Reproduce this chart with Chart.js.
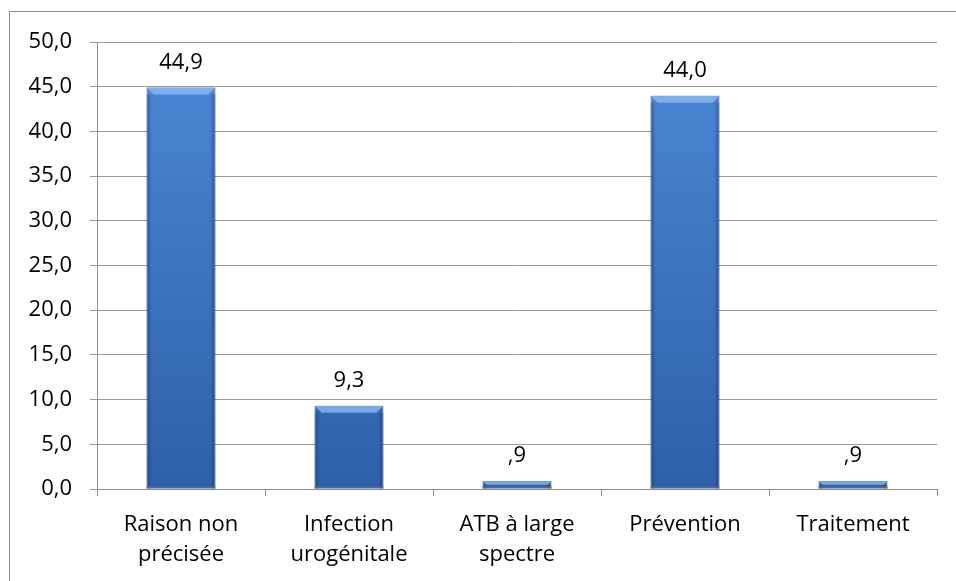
<!DOCTYPE html>
<html lang="fr">
<head>
<meta charset="utf-8">
<script src="https://cdn.jsdelivr.net/npm/chart.js@4/dist/chart.umd.min.js"></script>
<style>
    html, body { margin: 0; padding: 0; background: #fff; overflow: hidden; }
    #cadre { position: absolute; left: 9px; top: 11px; width: 1000px; height: 1000px;
             border: 1px solid #8c8c8c; box-sizing: border-box; }
    #grafique { position: absolute; left: 0; top: 0; }
</style>
</head>
<body>
<div id="cadre"></div>
<canvas id="grafique" width="956" height="581"></canvas>
<script>
/* categories (split into lines) and percentages */
const categories = [
    ['Raison non', 'précisée'],
    ['Infection', 'urogénitale'],
    ['ATB à large', 'spectre'],
    ['Prévention'],
    ['Traitement']
];
const pourcentages = [44.9, 9.3, 0.9, 44.0, 0.9];
const graduations = [0, 5, 10, 15, 20, 25, 30, 35, 40, 45, 50];

const police = "'Open Sans', sans-serif";

/* French decimal format, leading zero dropped under 1 */
function format_valeur(v) {
    const s = v.toFixed(1).replace('.', ',');
    return v > 0 && v < 1 ? s.slice(1) : s;
}

/* vertical blue gradient for each bar */
function degrade_barre(ctx) {
    const chart = ctx.chart;
    const area = chart.chartArea;
    if (!area) return '#3f76c2';
    const g = chart.ctx.createLinearGradient(0, area.top, 0, area.bottom);
    g.addColorStop(0, '#4d88d6');
    g.addColorStop(1, '#2e60aa');
    return g;
}

/* bevel highlight on top of bars + value labels */
const plugin_barres = {
    id: 'plugin_barres',
    afterDatasetsDraw(chart) {
        const ctx = chart.ctx;
        const meta = chart.getDatasetMeta(0);
        ctx.save();
        meta.data.forEach((bar, i) => {
            const l = bar.x - bar.width / 2, r = bar.x + bar.width / 2;
            const t = bar.y, b = bar.base;
            const h = Math.min(7, (b - t) / 2);
            // top bevel
            ctx.fillStyle = 'rgba(140,190,245,0.75)';
            ctx.beginPath();
            ctx.moveTo(l, t); ctx.lineTo(r, t);
            ctx.lineTo(r - h, t + h); ctx.lineTo(l + h, t + h);
            ctx.closePath(); ctx.fill();
            // side shading
            ctx.fillStyle = 'rgba(20,50,100,0.25)';
            ctx.fillRect(l, t + h, 4, b - t - h);
            ctx.fillRect(r - 4, t + h, 4, b - t - h);
            // bottom edge
            ctx.fillStyle = 'rgba(90,110,140,0.8)';
            ctx.fillRect(l, b - 2, bar.width, 2);

            ctx.fillStyle = '#000';
            ctx.font = '22px ' + police;
            ctx.textAlign = 'center';
            ctx.textBaseline = 'alphabetic';
            ctx.fillText(format_valeur(pourcentages[i]), bar.x, t - 19);
        });
        ctx.restore();
    }
};

new Chart(document.getElementById('grafique'), {
    type: 'bar',
    data: {
        labels: categories,
        datasets: [{
            data: pourcentages,
            backgroundColor: degrade_barre,
            borderColor: '#24467e',
            borderWidth: 1,
            barPercentage: 0.82,
            categoryPercentage: 0.5
        }]
    },
    options: {
        responsive: false,
        animation: false,
        devicePixelRatio: 1,
        layout: { padding: { left: 0, top: 42, right: 19, bottom: 0 } },
        plugins: { legend: { display: false }, tooltip: { enabled: false } },
        scales: {
            x: {
                grid: { drawOnChartArea: false, drawTicks: true, tickLength: 7, color: '#8c8c8c', offset: true },
                border: { color: '#8c8c8c' },
                ticks: { color: '#000', font: { family: police, size: 22, lineHeight: 1.35 }, padding: 14, maxRotation: 0 },
                afterFit: s => { s.height = 92; }
            },
            y: {
                min: 0, max: 50,
                afterBuildTicks: s => { s.ticks = graduations.map(v => ({ value: v })); },
                grid: { color: '#9a9a9a', tickLength: 7 },
                border: { color: '#8c8c8c' },
                ticks: { color: '#000', font: { family: police, size: 22 }, padding: 18,
                         callback: v => v.toFixed(1).replace('.', ',') },
                afterFit: s => { s.width = 97; }
            }
        }
    },
    plugins: [plugin_barres]
});
</script>
</body>
</html>
